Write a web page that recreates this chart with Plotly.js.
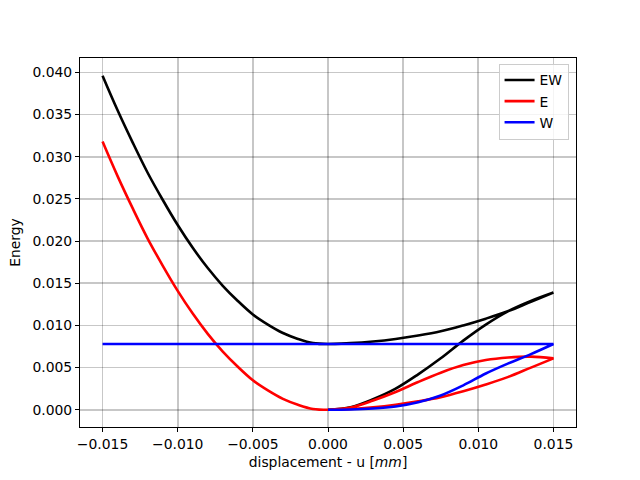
<!DOCTYPE html>
<html>
<head>
<meta charset="utf-8">
<script src="https://cdn.plot.ly/plotly-3.0.1.min.js"></script>
<style>html,body{margin:0;padding:0;background:#fff;}#chart{width:640px;height:480px;}</style>
</head>
<body>
<div id="chart"></div>
<script>
// Loading branch: u from 0 to 0.015
const uLoad  = [0, 0.0015, 0.003, 0.0045, 0.006, 0.0075, 0.009, 0.0105, 0.012, 0.0135, 0.015];
const eLoad  = [0, 0.00028, 0.0011, 0.0021, 0.0033, 0.0044, 0.0053, 0.0059, 0.0062, 0.0063, 0.0061];
const wLoad  = [0, 0.00003, 0.00015, 0.0004, 0.0009, 0.0017, 0.0029, 0.0043, 0.0055, 0.0066, 0.0078];
const ewLoad = [0, 0.0003, 0.00125, 0.0025, 0.0042, 0.0061, 0.0082, 0.0101, 0.0117, 0.0129, 0.0139];

// Unloading branch: u from 0.015 back to 0
const uUnload  = [0.015, 0.0135, 0.012, 0.0105, 0.009, 0.0075, 0.006, 0.0045, 0.003, 0.0015, 0];
const eUnload  = [0.0061, 0.0050, 0.0039, 0.0030, 0.0022, 0.0015, 0.0010, 0.0006, 0.0003, 0.0001, 0];
const wUnload  = [0.0078, 0.0078, 0.0078, 0.0078, 0.0078, 0.0078, 0.0078, 0.0078, 0.0078, 0.0078, 0.0078];
const ewUnload = [0.0139, 0.0128, 0.0117, 0.0108, 0.0100, 0.0093, 0.0088, 0.0084, 0.0081, 0.0079, 0.0078];

// Negative branch: u from 0 to -0.015
const uLeft  = [0, -0.001, -0.002, -0.003, -0.004, -0.005, -0.006, -0.007, -0.008, -0.009, -0.010, -0.011, -0.012, -0.013, -0.014, -0.015];
const eLeft  = [0, 0.0001, 0.0006, 0.0013, 0.0023, 0.0035, 0.0051, 0.0069, 0.0090, 0.0114, 0.0141, 0.0171, 0.0203, 0.0239, 0.0277, 0.0318];
const wLeft  = [0.0078, 0.0078, 0.0078, 0.0078, 0.0078, 0.0078, 0.0078, 0.0078, 0.0078, 0.0078, 0.0078, 0.0078, 0.0078, 0.0078, 0.0078, 0.0078];
const ewLeft = [0.0078, 0.0079, 0.0084, 0.0091, 0.0101, 0.0113, 0.0129, 0.0147, 0.0168, 0.0192, 0.0219, 0.0249, 0.0281, 0.0317, 0.0355, 0.0396];

const seriesNames = ["EW", "E", "W"];
const seriesColors = ["black", "red", "blue"];

const uAll = uLoad.concat(uUnload, uLeft);
const ySets = [
  ewLoad.concat(ewUnload, ewLeft),
  eLoad.concat(eUnload, eLeft),
  wLoad.concat(wUnload, wLeft)
];

const traces = seriesNames.map((name, i) => ({
  x: uAll,
  y: ySets[i],
  name: name,
  type: "scatter",
  mode: "lines",
  line: {color: seriesColors[i], width: 2.6, shape: "spline", smoothing: 1}
}));

const font = {family: "DejaVu Sans, sans-serif", size: 13.9, color: "black"};
const gridColor = "rgba(0,0,0,0.22)";

const layout = {
  width: 640,
  height: 480,
  margin: {l: 80, r: 64, t: 58, b: 53, pad: 0},
  paper_bgcolor: "white",
  plot_bgcolor: "white",
  font: font,
  showlegend: true,
  legend: {
    x: 0.985, y: 0.985, xanchor: "right", yanchor: "top",
    bgcolor: "rgba(255,255,255,0.8)",
    bordercolor: "#cccccc", borderwidth: 1,
    font: {family: "DejaVu Sans, sans-serif", size: 13.9},
    itemwidth: 30
  },
  xaxis: {
    range: [-0.0165, 0.0165],
    tickvals: [-0.015, -0.010, -0.005, 0, 0.005, 0.010, 0.015],
    tickformat: ".3f",
    ticks: "outside", ticklen: 4, tickwidth: 1, tickcolor: "black",
    showline: true, linecolor: "black", linewidth: 1, mirror: true,
    showgrid: true, gridcolor: gridColor, gridwidth: 1.6,
    zeroline: false,
    tickfont: {size: 13.9},
    title: {text: "displacement - u [<i>mm</i>]", font: {size: 13.9}, standoff: 6}
  },
  yaxis: {
    range: [-0.00204, 0.0417],
    tickvals: [0, 0.005, 0.010, 0.015, 0.020, 0.025, 0.030, 0.035, 0.040],
    tickformat: ".3f",
    ticks: "outside", ticklen: 4, tickwidth: 1, tickcolor: "black",
    showline: true, linecolor: "black", linewidth: 1, mirror: true,
    showgrid: true, gridcolor: gridColor, gridwidth: 1.6,
    zeroline: false,
    tickfont: {size: 13.9},
    title: {text: "Energy", font: {size: 13.9}, standoff: 8}
  }
};

Plotly.newPlot("chart", traces, layout, {displayModeBar: false, staticPlot: true});
</script>
</body>
</html>
